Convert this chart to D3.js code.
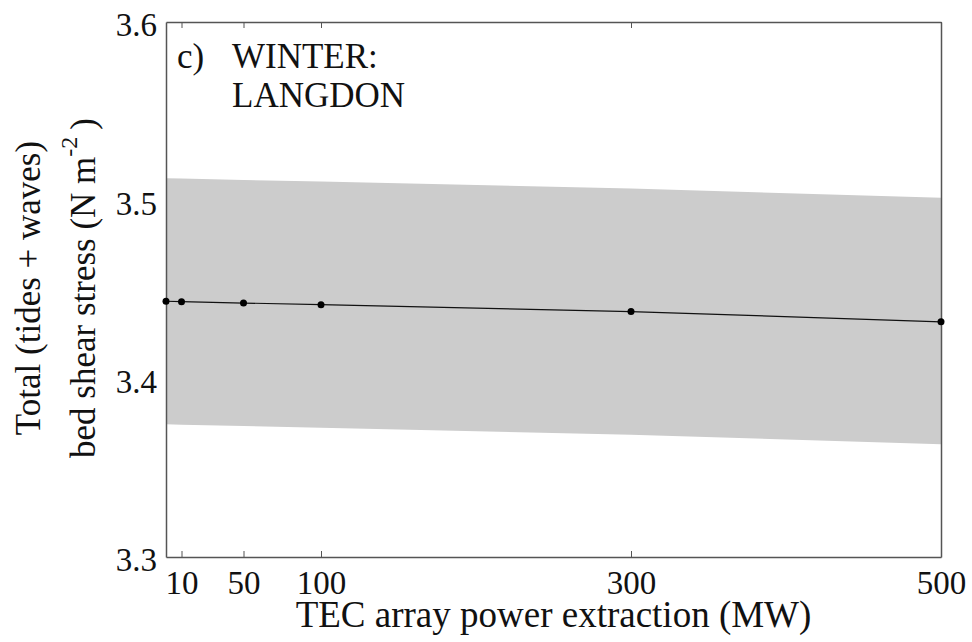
<!DOCTYPE html>
<html>
<head>
<meta charset="utf-8">
<script src="https://cdn.jsdelivr.net/npm/d3@7"></script>
<style>
  body { margin: 0; background: #fff; }
  svg, svg text, svg tspan { font-family: "Liberation Serif", "DejaVu Serif", serif; }
  svg text { fill: #111; }
</style>
</head>
<body>
<div id="viz"></div>
<script>
const width = 972
const height = 642
const margin = {top: 22, right: 31, bottom: 85, left: 166}
const innerWidth = width - margin.left - margin.right
const innerHeight = height - margin.top - margin.bottom
const serif = "Liberation Serif"

// data
const power = [0, 10, 50, 100, 300, 500]
const stress = [3.4434, 3.4432, 3.4424, 3.4415, 3.4376, 3.4319]
const bandUpper = [3.5124, 3.5122, 3.5114, 3.5105, 3.5066, 3.5015]
const bandLower = [3.3744, 3.3742, 3.3734, 3.3725, 3.3686, 3.3632]
const xTicks = [10, 50, 100, 300, 500]
const yTicks = [3.3, 3.4, 3.5, 3.6]

const rows = power.map((p, i) => ({p: p, v: stress[i], hi: bandUpper[i], lo: bandLower[i]}))

const svg = d3.select("#viz")
  .append("svg")
  .attr("width", width)
  .attr("height", height)
  .attr("font-family", serif)

const g = svg.append("g")
  .attr("transform", "translate(" + margin.left + "," + margin.top + ")")

const xScale = d3.scaleLinear().domain([0, 500]).range([0, innerWidth])
const yScale = d3.scaleLinear().domain([3.3, 3.6]).range([innerHeight, 0])

// shaded band
const area = d3.area()
  .x(d => xScale(d.p))
  .y0(d => yScale(d.lo))
  .y1(d => yScale(d.hi))

g.append("path")
  .datum(rows)
  .attr("d", area)
  .attr("fill", "#cccccc")

// axes box with inward ticks
const axisColor = "#555"

const xAxisG = g.append("g")
  .attr("transform", "translate(0," + innerHeight + ")")
  .call(d3.axisBottom(xScale)
    .tickValues(xTicks)
    .tickSize(-6)
    .tickPadding(14)
    .tickSizeOuter(0))
xAxisG.attr("font-family", serif)
xAxisG.select(".domain").attr("stroke", axisColor).attr("stroke-width", 1.5)
xAxisG.selectAll(".tick line").attr("stroke", axisColor)
xAxisG.selectAll(".tick text")
  .attr("font-family", serif)
  .attr("font-size", 33)
  .attr("dy", "0.71em")

const xTopG = g.append("g")
  .call(d3.axisTop(xScale)
    .tickValues(xTicks)
    .tickSize(-6)
    .tickSizeOuter(0))
xTopG.select(".domain").attr("stroke", axisColor).attr("stroke-width", 1.5)
xTopG.selectAll(".tick line").attr("stroke", axisColor)
xTopG.selectAll(".tick text").remove()

const yAxisG = g.append("g")
  .call(d3.axisLeft(yScale)
    .tickValues(yTicks)
    .tickFormat(d3.format(".1f"))
    .tickSize(0)
    .tickPadding(9)
    .tickSizeOuter(0))
yAxisG.attr("font-family", serif)
yAxisG.select(".domain").attr("stroke", axisColor).attr("stroke-width", 1.5)
yAxisG.selectAll(".tick text")
  .attr("font-family", serif)
  .attr("font-size", 33)
  .attr("dy", "0.42em")

const yRightG = g.append("g")
  .attr("transform", "translate(" + innerWidth + ",0)")
  .call(d3.axisRight(yScale)
    .tickValues(yTicks)
    .tickSize(0)
    .tickSizeOuter(0))
yRightG.select(".domain").attr("stroke", axisColor).attr("stroke-width", 1.5)
yRightG.selectAll(".tick text").remove()

// mean line and points
const line = d3.line()
  .x(d => xScale(d.p))
  .y(d => yScale(d.v))

g.append("path")
  .datum(rows)
  .attr("d", line)
  .attr("fill", "none")
  .attr("stroke", "#111")
  .attr("stroke-width", 1.2)

g.selectAll(".pt")
  .data(rows)
  .enter().append("circle")
  .attr("class", "pt")
  .attr("cx", d => xScale(d.p))
  .attr("cy", d => yScale(d.v))
  .attr("r", 3.5)
  .attr("fill", "#000")

// panel annotation
const note = g.append("g")
  .attr("font-family", serif)
  .attr("font-size", 35)
note.append("text").attr("x", 11).attr("y", 46).text("c)")
note.append("text").attr("x", 66).attr("y", 46).text("WINTER:")
note.append("text").attr("x", 66).attr("y", 85).text("LANGDON")

// x-axis label
svg.append("text")
  .attr("x", margin.left + innerWidth / 2)
  .attr("y", 627)
  .attr("text-anchor", "middle")
  .attr("font-family", serif)
  .attr("font-size", 37)
  .text("TEC array power extraction (MW)")

// y-axis label, two lines
const yLab = svg.append("g")
  .attr("transform", "translate(0,288) rotate(-90)")
  .attr("font-family", serif)
  .attr("font-size", 35)

yLab.append("text")
  .attr("x", 0)
  .attr("y", 40)
  .attr("text-anchor", "middle")
  .text("Total (tides + waves)")

const line2 = yLab.append("text")
  .attr("x", 0)
  .attr("y", 95)
  .attr("text-anchor", "middle")
line2.append("tspan").text("bed shear stress (N m")
line2.append("tspan").attr("font-size", 24).attr("dy", -18).text("-2")
line2.append("tspan").attr("dy", 18).text("\u2009)")
</script>
</body>
</html>
